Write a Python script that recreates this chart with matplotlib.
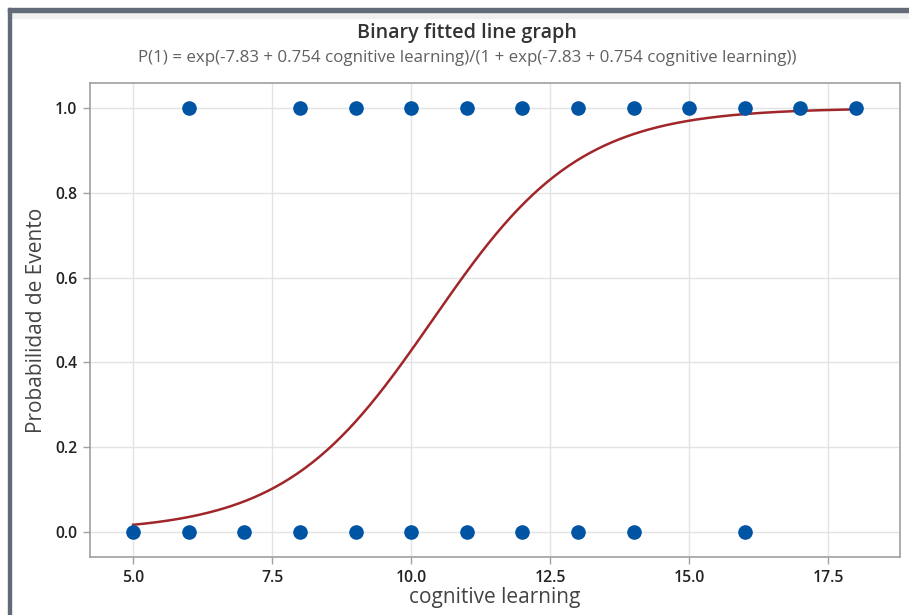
import numpy as np
import matplotlib
matplotlib.use("Agg")
import matplotlib.pyplot as plt
from matplotlib.patches import Rectangle

# Data
event_x = [6, 8, 9, 10, 11, 12, 13, 14, 15, 16, 17, 18]
event_y = [1] * len(event_x)
nonevent_x = [5, 6, 7, 8, 9, 10, 11, 12, 13, 14, 16]
nonevent_y = [0] * len(nonevent_x)
coef = [-7.83, 0.754]  # intercept, slope
x_range = [5, 18]
xticks = [5.0, 7.5, 10.0, 12.5, 15.0, 17.5]
yticks = [0.0, 0.2, 0.4, 0.6, 0.8, 1.0]

title = "Binary fitted line graph"
subtitle = "P(1) = exp(-7.83 + 0.754 cognitive learning)/(1 + exp(-7.83 + 0.754 cognitive learning))"
xlabel = "cognitive learning"
ylabel = "Probabilidad de Evento"

plt.rcParams['font.family'] = ['Open Sans', 'DejaVu Sans']

W, H = 909, 615
fig = plt.figure(figsize=(W / 100, H / 100), dpi=100)
fig.patch.set_facecolor('white')

# window frame
def px_rect(x0, y0, x1, y1, color):
    fig.patches.append(Rectangle((x0 / W, 1 - y1 / H), (x1 - x0) / W, (y1 - y0) / H,
                                 transform=fig.transFigure, color=color, zorder=0))

px_rect(8, 12, W, 18, '#f0f0f0')
px_rect(8, 8, W, 12, '#636b78')
px_rect(8, 8, 11, H, '#636b78')

ax = fig.add_axes([90 / W, 1 - 557 / H, (900 - 90) / W, (557 - 83) / H])
ax.set_facecolor('white')

xs = np.linspace(x_range[0], x_range[1], 300)
z = coef[0] + coef[1] * xs
p = np.exp(z) / (1 + np.exp(z))
ax.plot(xs, p, color='#a1262a', lw=1.8, zorder=3)

ax.plot(event_x, event_y, 'o', color='#0054a4', ms=9.5, zorder=4)
ax.plot(nonevent_x, nonevent_y, 'o', color='#0054a4', ms=9.5, zorder=4)

ax.set_xlim(4.225, 18.79)
ax.set_ylim(-0.059, 1.059)
ax.set_xticks(xticks)
ax.set_xticklabels([f"{v:.1f}" for v in xticks])
ax.set_yticks(yticks)
ax.set_yticklabels([f"{v:.1f}" for v in yticks])
ax.grid(True, color='#e3e3e3', lw=1.0, zorder=0)
ax.set_axisbelow(True)
for s in ax.spines.values():
    s.set_color('#a0a0a0')
    s.set_linewidth(1.2)
ax.tick_params(axis='both', colors='#a0a0a0', length=5, width=1.0, labelsize=11.3,
               labelcolor='#222222', pad=4)
for lab in ax.get_xticklabels() + ax.get_yticklabels():
    lab.set_fontweight('semibold')

ax.set_xlabel(xlabel, fontsize=15, color='#444444', labelpad=1)
ax.set_ylabel(ylabel, fontsize=15, color='#444444', labelpad=6)

cx = 467 / W
fig.text(cx, 1 - 33 / H, title, ha='center', va='center',
         fontsize=14.2, color='#333333', fontweight='semibold')
fig.text(cx, 1 - 58 / H, subtitle, ha='center', va='center',
         fontsize=12.2, color='#606060')

fig.savefig('out.png', dpi=100)
